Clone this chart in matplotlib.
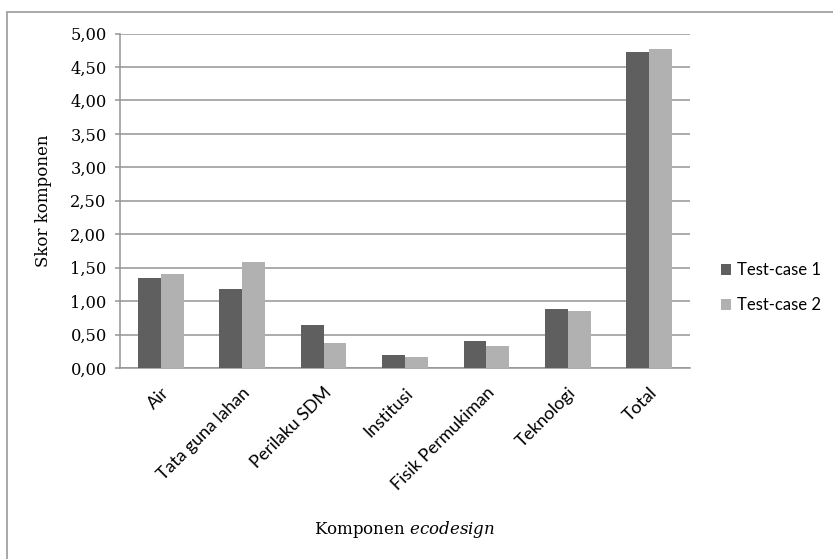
import numpy as np
import matplotlib.pyplot as plt
from matplotlib.patches import Rectangle
from matplotlib.ticker import FuncFormatter

# data
categories = ['Air', 'Tata guna lahan', 'Perilaku SDM', 'Institusi',
              'Fisik Permukiman', 'Teknologi', 'Total']
test_case_1 = [1.34, 1.18, 0.64, 0.20, 0.41, 0.88, 4.72]
test_case_2 = [1.40, 1.59, 0.37, 0.165, 0.335, 0.85, 4.77]
series_names = ['Test-case 1', 'Test-case 2']
y_ticks = [0, 0.5, 1.0, 1.5, 2.0, 2.5, 3.0, 3.5, 4.0, 4.5, 5.0]

serif = 'DejaVu Serif'
sans = 'Lato'
plt.rcParams['mathtext.fontset'] = 'dejavuserif'

fig = plt.figure(figsize=(8.33, 5.59), dpi=100)

# outer chart frame (runs off the right and bottom of the crop)
fig.patches.append(Rectangle((7 / 833, -0.1), 1.2, 1 - 12 / 559 + 0.1,
                             transform=fig.transFigure, fill=False,
                             edgecolor='#9a9a9a', linewidth=1.2))

ax = fig.add_axes([120 / 833, 1 - 368 / 559, 570 / 833, 334.5 / 559])

x = np.arange(len(categories))
w = 0.28
ax.bar(x - w / 2, test_case_1, w, color='#5f5f5f', label=series_names[0], zorder=3)
ax.bar(x + w / 2, test_case_2, w, color='#b1b1b1', label=series_names[1], zorder=3)

ax.set_xlim(-0.5, len(categories) - 0.5)
ax.set_ylim(0, 5)
ax.set_yticks(y_ticks)
ax.yaxis.set_major_formatter(FuncFormatter(lambda v, p: f'{v:.2f}'.replace('.', ',')))
ax.grid(axis='y', color='#959595', linewidth=1.1, zorder=0)

for s in ['top', 'right']:
    ax.spines[s].set_visible(False)
ax.spines['left'].set_color('#959595')
ax.spines['bottom'].set_color('#959595')
ax.spines['left'].set_linewidth(1.1)
ax.spines['bottom'].set_linewidth(1.1)

ax.tick_params(axis='y', length=3.6, color='#959595', width=1.1, pad=6)
ax.tick_params(axis='x', length=0, pad=12)
for lbl in ax.get_yticklabels():
    lbl.set_fontfamily(serif)
    lbl.set_fontsize(11.7)

ax.set_xticks(x)
ax.set_xticklabels(categories, rotation=45, ha='right', rotation_mode='anchor',
                   fontfamily=sans, fontsize=12.8)

ax.set_ylabel('Skor komponen', fontfamily=serif, fontsize=12)
ax.yaxis.set_label_coords(-0.119, 0.5)
ax.set_xlabel(r'Komponen $\it{ecodesign}$', fontfamily=serif, fontsize=12)
ax.xaxis.set_label_coords(0.5, -0.451)

leg = ax.legend(loc='center left', frameon=False,
                prop={'family': sans, 'size': 12}, handlelength=0.6,
                handleheight=0.6, handletextpad=0.35, labelspacing=1.15,
                borderaxespad=0, borderpad=0)
leg.set_bbox_to_anchor((1.054, 0.0, 0.3, 0.48), transform=ax.transAxes)

fig.savefig('out.png', dpi=100)
